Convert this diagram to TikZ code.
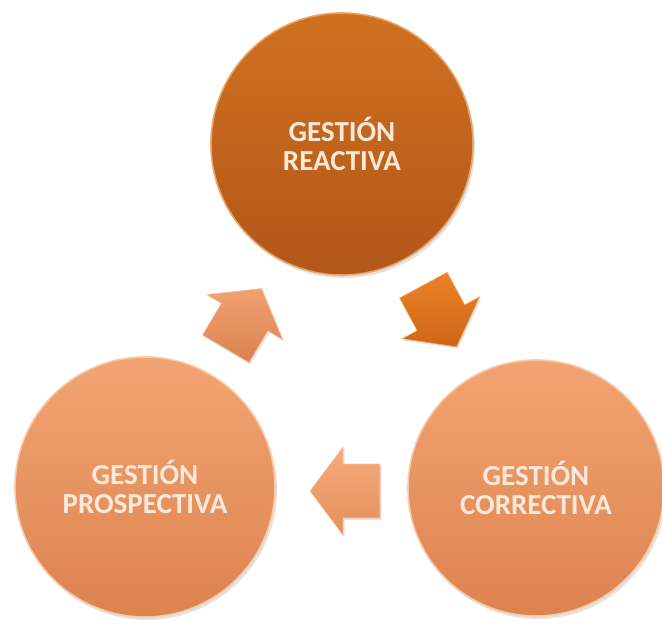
\documentclass[tikz,border=0pt]{standalone}
\usepackage{fontspec}
\setmainfont{Carlito}
\usetikzlibrary{shadows}
\definecolor{topA}{HTML}{D0711F}
\definecolor{topB}{HTML}{B2561A}
\definecolor{topRim}{HTML}{E9A465}
\definecolor{lowA}{HTML}{F3A472}
\definecolor{lowB}{HTML}{DC8350}
\definecolor{lowRim}{HTML}{F8CBA6}
\definecolor{txt}{HTML}{FCE9DA}
\definecolor{arrOA}{HTML}{EA8228}
\definecolor{arrOB}{HTML}{CF6616}
\definecolor{arrPA}{HTML}{F1A171}
\definecolor{arrPB}{HTML}{DA8250}
\definecolor{arrLA}{HTML}{F5AC7C}
\definecolor{arrLB}{HTML}{E58F5C}
\newcommand\blockarr[4]{%
  \begin{scope}[shift={(#1)}, rotate=#2]
    \shade[top color=#3, bottom color=#4, draw=#3!70!white, line width=0.6pt,
      drop shadow={opacity=0.2, shadow xshift=1.5pt, shadow yshift=-2pt}]
      (-35,-27) -- (2,-27) -- (2,-44) -- (35,0) -- (2,44) -- (2,27) -- (-35,27) -- cycle;
  \end{scope}}
\begin{document}
\begin{tikzpicture}[x=1pt,y=-1pt,
  stage/.style={circle, inner sep=0pt, text=txt,
    font=\bfseries\fontsize{29}{29}\selectfont, align=center, line width=1.6pt,
    drop shadow={opacity=0.22, shadow xshift=2pt, shadow yshift=-3pt}},
  darkstage/.style={stage, draw=topRim, top color=topA, bottom color=topB},
  lightstage/.style={stage, draw=lowRim, top color=lowA, bottom color=lowB}]
\useasboundingbox (0,0) rectangle (662,625);
\node[darkstage, minimum size=262pt] (reac) at (342,144) {GESTIÓN\\REACTIVA};
\node[lightstage, minimum size=260pt] (pros) at (145,487) {GESTIÓN\\PROSPECTIVA};
\node[lightstage, minimum size=256pt] (corr) at (536,488) {GESTIÓN\\CORRECTIVA};
\coordinate (aUR) at (243.7,318.7);
\coordinate (aDR) at (440,316);
\coordinate (aL) at (345,491);
\blockarr{aDR}{-61.6}{arrOA}{arrOB}
\blockarr{aL}{180}{arrLA}{arrLB}
\blockarr{aUR}{59.3}{arrPA}{arrPB}
\end{tikzpicture}
\end{document}
